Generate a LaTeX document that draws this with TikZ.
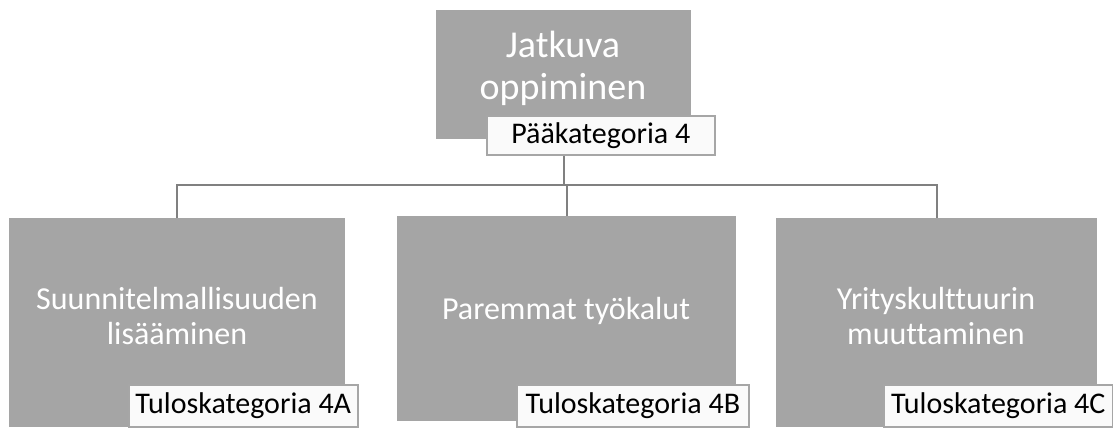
\documentclass[tikz,border=0pt]{standalone}
\usepackage{fontspec}
\setmainfont{Carlito}[Ligatures=CommonOff]
\begin{document}
\begin{tikzpicture}[x=1pt,y=-1pt,
  catbox/.style={draw=none,fill=boxgray,inner sep=0pt,anchor=north west},
  cattext/.style={text=white,align=center,font=\fontsize{32}{35}\selectfont},
  tagbox/.style={draw=taggray,line width=1.6pt,fill=tagfill,inner sep=0pt,anchor=north west,
                 font=\fontsize{30}{32}\selectfont,text=black},
  link/.style={draw=linkgray,line width=2.4pt}]
\definecolor{boxgray}{HTML}{A5A5A5}
\definecolor{taggray}{HTML}{A6A6A6}
\definecolor{tagfill}{HTML}{FAFAFA}
\definecolor{linkgray}{HTML}{808080}
\useasboundingbox (0,0) rectangle (1113,428);

% main category
\node[catbox,minimum width=255pt,minimum height=129pt] (top) at (436,10) {};
\node[cattext,font=\fontsize{38}{42}\selectfont] (toptxt) at (563,68) {Jatkuva\\oppiminen};

% result categories
\node[catbox,minimum width=336pt,minimum height=209pt] (c1) at (9,218) {};
\node[catbox,minimum width=339pt,minimum height=205pt] (c2) at (397,216) {};
\node[catbox,minimum width=321pt,minimum height=209pt] (c3) at (776,218) {};
\node[cattext] (c1txt) at (177,316) {Suunnitelmallisuuden\\lisääminen};
\node[cattext] (c2txt) at (566,311) {Paremmat työkalut};
\node[cattext] (c3txt) at (936,316) {Yrityskulttuurin\\muuttaminen};

% connectors
\coordinate (bus) at (0,185);
\draw[link] (top.south) -- (top.south |- bus);
\draw[link] (c1.north) |- (c3.north |- bus) -- (c3.north);
\draw[link] (c2.north) -- (c2.north |- bus);

% category tags
\node[tagbox,minimum width=228pt,minimum height=39pt] (tag0) at (486,115) {Pääkategoria 4};
\node[tagbox,minimum width=229pt,minimum height=42pt] (tagA) at (128,384) {Tuloskategoria 4A};
\node[tagbox,minimum width=232pt,minimum height=42pt] (tagB) at (516,384) {Tuloskategoria 4B};
\node[tagbox,minimum width=229pt,minimum height=42pt] (tagC) at (883,384) {Tuloskategoria 4C};
\end{tikzpicture}
\end{document}
